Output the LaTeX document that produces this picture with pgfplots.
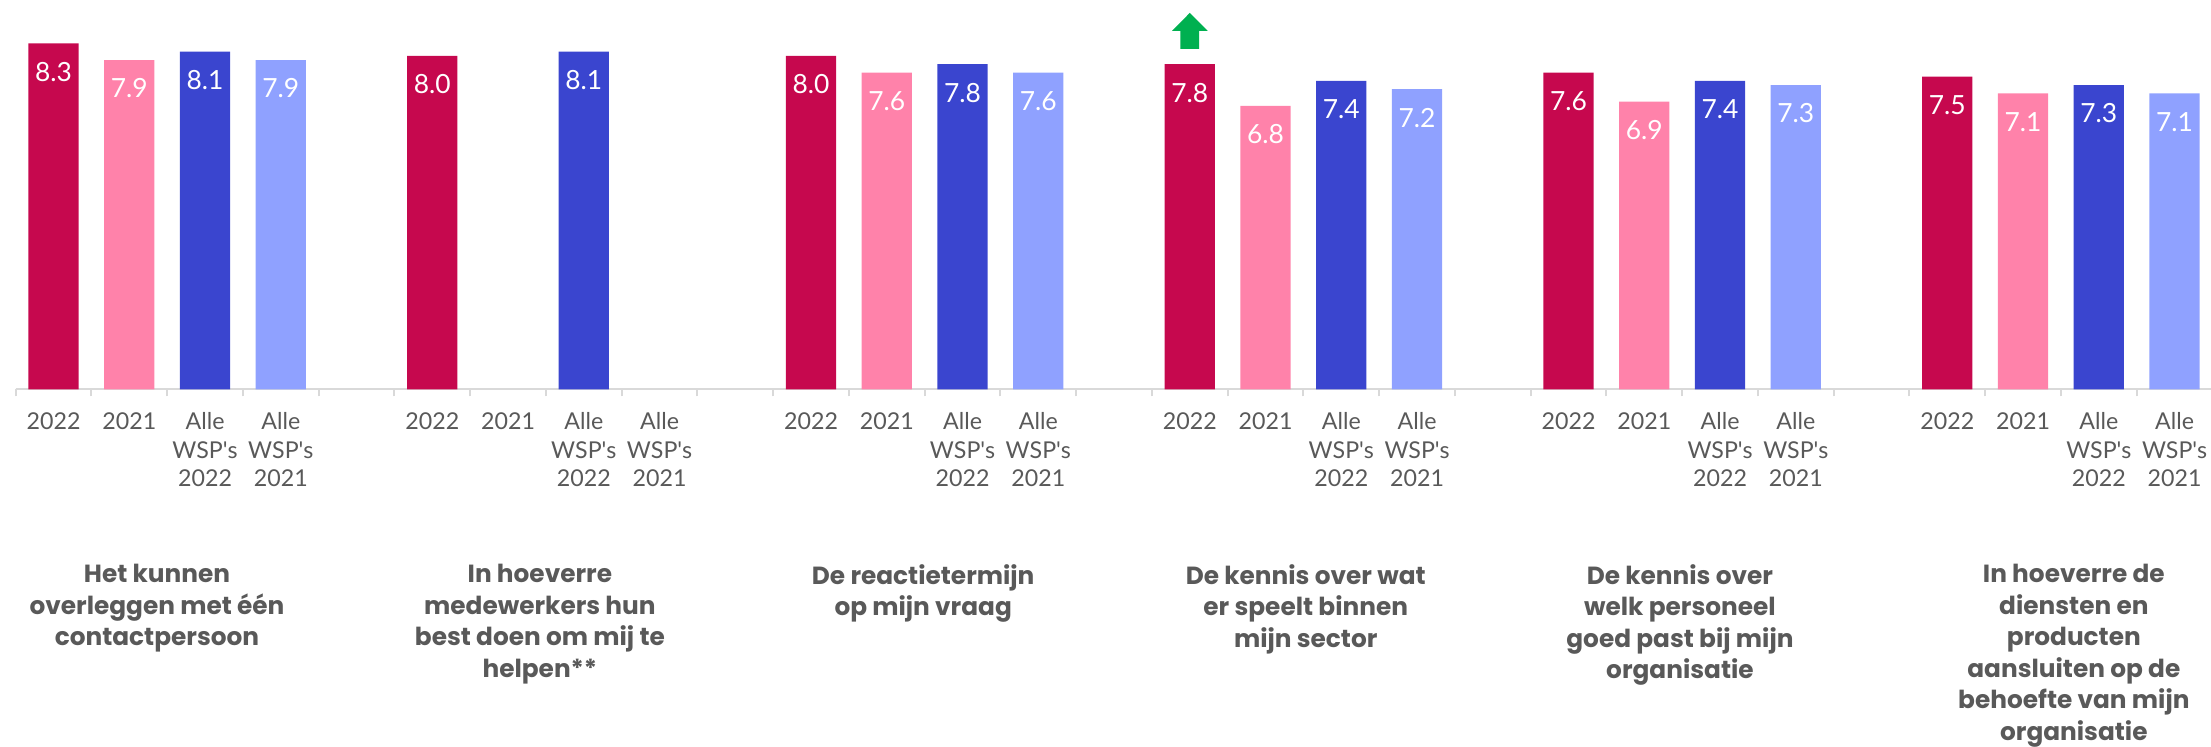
\documentclass[border=0pt]{standalone}
\usepackage{fontspec}
\setmainfont{Lato}
\newfontfamily\labfont{Poppins}
\usepackage{pgfplots}
\pgfplotsset{compat=1.18}
\usepackage{pgfplotstable}

\definecolor{cA}{RGB}{198,8,78}
\definecolor{cB}{RGB}{255,130,170}
\definecolor{cC}{RGB}{58,69,207}
\definecolor{cD}{RGB}{143,161,255}
\definecolor{arrowgreen}{RGB}{0,176,80}
\definecolor{txtgray}{RGB}{89,89,89}
\definecolor{axgray}{RGB}{217,217,217}

\newcommand{\wsp}{WSP\textquotesingle s}

\pgfplotstableread{
x y
0 8.3
5 8.0
10 8.0
15 7.8
20 7.6
25 7.5
}\tA
\pgfplotstableread{
x y
1 7.9
11 7.6
16 6.8
21 6.9
26 7.1
}\tB
\pgfplotstableread{
x y
2 8.1
7 8.1
12 7.8
17 7.4
22 7.4
27 7.3
}\tC
\pgfplotstableread{
x y
3 7.9
13 7.6
18 7.2
23 7.3
28 7.1
}\tD

\begin{document}
\begin{tikzpicture}
\useasboundingbox (0,0) rectangle (1105.5pt,373.5pt);
\begin{axis}[
  at={(7.85pt,178.85pt)}, anchor=south west,
  x=37.875pt, y=20.84pt,
  xmin=-0.5, xmax=28.5, ymin=0, ymax=8.5,
  clip=false,
  axis y line=none,
  axis x line=bottom,
  x axis line style={-, draw=axgray, line width=1pt},
  ytick=\empty,
  xtick={0,1,2,3,5,6,7,8,10,11,12,13,15,16,17,18,20,21,22,23,25,26,27,28},
  xticklabels={2022,2021,{Alle\\\wsp\\2022},{Alle\\\wsp\\2021},
               2022,2021,{Alle\\\wsp\\2022},{Alle\\\wsp\\2021},
               2022,2021,{Alle\\\wsp\\2022},{Alle\\\wsp\\2021},
               2022,2021,{Alle\\\wsp\\2022},{Alle\\\wsp\\2021},
               2022,2021,{Alle\\\wsp\\2022},{Alle\\\wsp\\2021},
               2022,2021,{Alle\\\wsp\\2022},{Alle\\\wsp\\2021}},
  minor xtick={-0.5,0.5,...,28.5},
  tick align=outside,
  major tick length=0pt,
  minor tick length=3.5pt,
  every minor tick/.style={draw=axgray, line width=1pt},
  xticklabel style={anchor=north, align=center, inner sep=0pt, yshift=-11.5pt,
    text=txtgray, font=\fontsize{11.6}{14.2}\selectfont},
  ybar, bar width=0.663, bar shift=0pt,
  nodes near coords={\pgfmathprintnumber[fixed,fixed zerofill,precision=1,assume math mode=true]{\pgfplotspointmeta}},
  every node near coord/.append style={anchor=center, yshift=-14.25pt, text=white,
    font=\fontsize{13.2}{15}\selectfont, inner sep=0pt},
]
\addplot[fill=cA, draw=none] table[x=x,y=y] {\tA};
\addplot[fill=cB, draw=none] table[x=x,y=y] {\tB};
\addplot[fill=cC, draw=none] table[x=x,y=y] {\tC};
\addplot[fill=cD, draw=none] table[x=x,y=y] {\tD};

% green up-arrow above the 2022 bar of group 4
\fill[arrowgreen] ([xshift=-4.7pt,yshift=7.65pt]axis cs:15,7.8)
   -- ([xshift=-4.7pt,yshift=16.65pt]axis cs:15,7.8)
   -- ([xshift=-8.9pt,yshift=16.65pt]axis cs:15,7.8)
   -- ([xshift=0pt,yshift=25.65pt]axis cs:15,7.8)
   -- ([xshift=8.9pt,yshift=16.65pt]axis cs:15,7.8)
   -- ([xshift=4.7pt,yshift=16.65pt]axis cs:15,7.8)
   -- ([xshift=4.7pt,yshift=7.65pt]axis cs:15,7.8)
   -- cycle;

\begin{scope}[every node/.style={anchor=north, align=center, inner sep=0pt, text=txtgray,
   font=\labfont\fontsize{12.4}{15.75}\selectfont\bfseries}]
\node at ([yshift=-87.4pt]axis cs:1.365,0) {Het kunnen\\overleggen met één\\contactpersoon};
\node at ([yshift=-87.4pt]axis cs:6.42,0) {In hoeverre\\medewerkers hun\\best doen om mij te\\helpen**};
\node at ([yshift=-87.4pt]axis cs:11.48,0) {De reactietermijn\\op mijn vraag};
\node at ([yshift=-87.4pt]axis cs:16.53,0) {De kennis over wat\\er speelt binnen\\mijn sector};
\node at ([yshift=-87.4pt]axis cs:21.47,0) {De kennis over\\welk personeel\\goed past bij mijn\\organisatie};
\node at ([yshift=-87.4pt]axis cs:26.67,0) {In hoeverre de\\diensten en\\producten\\aansluiten op de\\behoefte van mijn\\organisatie};
\end{scope}
\end{axis}
\end{tikzpicture}
\end{document}
